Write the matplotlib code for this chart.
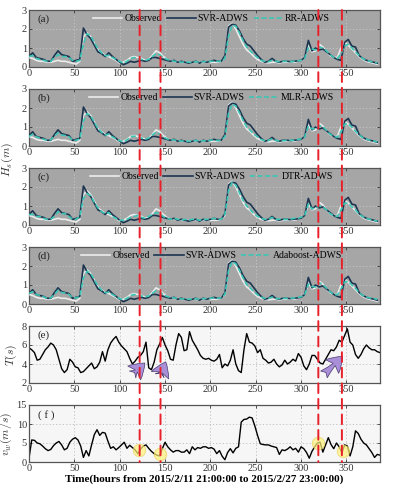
import numpy as np
import matplotlib
matplotlib.use("Agg")
import matplotlib.pyplot as plt
from matplotlib.patches import ConnectionPatch, FancyArrowPatch

plt.rcParams["font.family"] = ["Liberation Serif", "DejaVu Serif"]
plt.rcParams["mathtext.fontset"] = "cm"

# ---- data ----
hs_hours = np.arange(0, 385, 4)
met_hours = np.arange(0, 388, 3)

hs_observed = [
    0.50, 0.45, 0.35, 0.30, 0.30, 0.25, 0.25, 0.30, 0.35, 0.30,
    0.30, 0.25, 0.20, 0.15, 0.30, 1.60, 1.80, 1.60, 1.25, 0.90,
    0.75, 0.60, 0.55, 0.45, 0.35, 0.20, 0.25, 0.35, 0.50, 0.55,
    0.50, 0.45, 0.35, 0.40, 0.60, 0.85, 0.75, 0.55, 0.40, 0.30,
    0.30, 0.28, 0.25, 0.25, 0.22, 0.25, 0.25, 0.22, 0.25, 0.25,
    0.25, 0.25, 0.25, 0.30, 0.50, 2.15, 2.30, 2.00, 1.60, 1.20,
    0.90, 0.75, 0.55, 0.40, 0.30, 0.25, 0.22, 0.25, 0.25, 0.22,
    0.25, 0.25, 0.25, 0.25, 0.30, 0.35, 0.50, 1.10, 0.80, 0.85,
    1.20, 1.05, 0.80, 0.60, 0.50, 0.50, 1.00, 1.30, 1.15, 0.95,
    0.75, 0.55, 0.40, 0.30, 0.25, 0.20, 0.15]

hs_svr = [
    0.55, 0.75, 0.50, 0.45, 0.40, 0.30, 0.30, 0.60, 0.85, 0.65,
    0.60, 0.55, 0.30, 0.35, 0.40, 2.05, 1.70, 1.50, 1.15, 0.80,
    0.70, 0.55, 0.75, 0.55, 0.40, 0.25, 0.12, 0.20, 0.30, 0.25,
    0.30, 0.35, 0.30, 0.35, 0.50, 0.50, 0.45, 0.40, 0.35, 0.30,
    0.35, 0.25, 0.30, 0.25, 0.20, 0.25, 0.30, 0.20, 0.30, 0.25,
    0.30, 0.35, 0.30, 0.30, 0.60, 2.10, 2.25, 2.20, 1.90, 1.50,
    1.20, 1.10, 0.85, 0.60, 0.40, 0.25, 0.30, 0.45, 0.30, 0.25,
    0.30, 0.30, 0.28, 0.30, 0.32, 0.35, 0.50, 1.40, 0.85, 1.00,
    0.90, 0.95, 0.80, 0.65, 0.50, 0.40, 0.35, 1.30, 1.45, 1.10,
    1.05, 0.60, 0.45, 0.35, 0.30, 0.25, 0.20]

hs_rr = [
    0.55, 0.60, 0.45, 0.40, 0.35, 0.30, 0.30, 0.50, 0.65, 0.55,
    0.55, 0.50, 0.35, 0.30, 0.35, 1.20, 1.75, 1.65, 1.30, 0.95,
    0.75, 0.60, 0.60, 0.50, 0.40, 0.30, 0.20, 0.30, 0.45, 0.50,
    0.45, 0.40, 0.35, 0.40, 0.55, 0.70, 0.65, 0.50, 0.40, 0.35,
    0.30, 0.30, 0.25, 0.28, 0.25, 0.25, 0.28, 0.25, 0.28, 0.30,
    0.30, 0.30, 0.30, 0.30, 0.45, 1.60, 2.20, 2.15, 1.80, 1.40,
    1.05, 0.85, 0.65, 0.50, 0.35, 0.30, 0.28, 0.35, 0.30, 0.28,
    0.30, 0.30, 0.28, 0.30, 0.32, 0.35, 0.45, 1.00, 0.95, 0.90,
    1.05, 1.00, 0.85, 0.65, 0.50, 0.45, 0.70, 1.10, 1.20, 1.00,
    0.80, 0.60, 0.45, 0.35, 0.30, 0.25, 0.22]

hs_mlr = [
    0.50, 0.62, 0.48, 0.42, 0.36, 0.30, 0.32, 0.52, 0.70, 0.58,
    0.55, 0.48, 0.32, 0.30, 0.38, 1.30, 1.70, 1.60, 1.25, 0.92,
    0.72, 0.58, 0.62, 0.48, 0.38, 0.28, 0.22, 0.32, 0.48, 0.52,
    0.48, 0.42, 0.36, 0.42, 0.58, 0.72, 0.62, 0.48, 0.38, 0.32,
    0.32, 0.28, 0.26, 0.28, 0.24, 0.26, 0.30, 0.24, 0.28, 0.28,
    0.30, 0.32, 0.28, 0.32, 0.48, 1.70, 2.20, 2.10, 1.75, 1.35,
    1.00, 0.82, 0.62, 0.48, 0.34, 0.28, 0.30, 0.38, 0.30, 0.26,
    0.28, 0.30, 0.30, 0.30, 0.34, 0.38, 0.48, 1.05, 0.90, 0.92,
    1.08, 1.02, 0.82, 0.62, 0.52, 0.46, 0.75, 1.15, 1.18, 0.98,
    0.78, 0.58, 0.44, 0.36, 0.30, 0.26, 0.22]

hs_dtr = [
    0.55, 0.55, 0.45, 0.45, 0.35, 0.30, 0.30, 0.45, 0.70, 0.60,
    0.60, 0.45, 0.30, 0.30, 0.45, 1.40, 1.65, 1.55, 1.20, 0.90,
    0.70, 0.60, 0.65, 0.45, 0.35, 0.25, 0.25, 0.30, 0.40, 0.45,
    0.50, 0.40, 0.35, 0.45, 0.55, 0.65, 0.60, 0.45, 0.35, 0.30,
    0.35, 0.30, 0.25, 0.30, 0.25, 0.30, 0.30, 0.25, 0.30, 0.30,
    0.30, 0.35, 0.30, 0.30, 0.55, 1.80, 2.25, 2.10, 1.70, 1.30,
    1.00, 0.80, 0.60, 0.45, 0.35, 0.30, 0.30, 0.40, 0.30, 0.30,
    0.30, 0.30, 0.30, 0.35, 0.35, 0.40, 0.50, 1.10, 0.85, 0.90,
    1.00, 0.95, 0.80, 0.60, 0.50, 0.45, 0.80, 1.15, 1.15, 0.95,
    0.80, 0.55, 0.45, 0.35, 0.30, 0.25, 0.20]

hs_ada = [
    0.55, 0.65, 0.50, 0.45, 0.38, 0.30, 0.32, 0.50, 0.72, 0.60,
    0.58, 0.50, 0.34, 0.32, 0.40, 1.35, 1.72, 1.62, 1.28, 0.95,
    0.74, 0.60, 0.62, 0.50, 0.40, 0.28, 0.22, 0.30, 0.45, 0.50,
    0.46, 0.42, 0.38, 0.42, 0.56, 0.70, 0.64, 0.50, 0.40, 0.34,
    0.32, 0.30, 0.26, 0.28, 0.25, 0.27, 0.28, 0.25, 0.28, 0.30,
    0.30, 0.32, 0.30, 0.32, 0.50, 1.75, 2.22, 2.12, 1.78, 1.38,
    1.02, 0.84, 0.64, 0.48, 0.36, 0.30, 0.30, 0.36, 0.30, 0.28,
    0.30, 0.30, 0.30, 0.32, 0.34, 0.38, 0.48, 1.05, 0.92, 0.90,
    1.12, 1.02, 0.84, 0.64, 0.52, 0.48, 0.78, 1.15, 1.20, 1.00,
    0.82, 0.60, 0.46, 0.36, 0.32, 0.28, 0.25]

wave_period = [
    5.7, 5.5, 5.2, 4.4, 4.5, 5.0, 5.5, 5.8, 6.2, 6.0,
    5.5, 4.5, 3.5, 3.1, 3.4, 4.5, 4.2, 3.7, 3.6, 3.1,
    3.2, 3.5, 3.8, 4.1, 3.5, 3.7, 4.2, 5.3, 4.3, 5.5,
    6.2, 6.6, 6.9, 6.3, 5.9, 5.6, 5.3, 4.6, 4.0, 4.3,
    4.7, 4.9, 5.3, 6.3, 3.6, 3.4, 4.2, 5.5, 6.1, 6.8,
    6.0, 5.4, 4.5, 4.4, 6.0, 7.2, 6.8, 5.4, 5.5, 7.4,
    6.5, 6.0, 5.5, 4.9, 4.6, 4.5, 4.6, 4.4, 4.3, 4.5,
    5.0, 3.6, 4.0, 3.8, 4.4, 5.5, 4.0, 3.3, 3.1, 5.5,
    7.2, 6.3, 6.2, 5.9, 5.2, 5.5, 4.6, 4.4, 4.1, 4.2,
    4.5, 4.0, 3.7, 3.9, 4.4, 4.0, 4.2, 4.5, 4.3, 5.1,
    4.7, 3.8, 3.4, 4.0, 4.9, 4.9, 4.5, 4.1, 4.0, 4.5,
    5.0, 5.5, 5.4, 5.8, 6.5, 6.3, 7.0, 7.7, 6.3, 6.0,
    5.0, 4.6, 5.0, 5.6, 6.0, 5.7, 5.5, 5.5, 5.3, 5.2]

wind_speed = [
    1.0, 5.8, 5.7, 5.0, 4.8, 4.2, 3.5, 3.0, 3.3, 4.3,
    5.0, 5.4, 4.5, 3.2, 3.6, 5.2, 6.0, 6.4, 5.8, 4.2,
    1.2, 3.0, 1.6, 4.5, 7.2, 8.5, 7.0, 7.8, 7.6, 5.5,
    3.6, 4.0, 3.2, 3.8, 4.5, 5.2, 3.6, 4.4, 3.8, 3.2,
    2.2, 3.4, 4.2, 4.5, 3.6, 2.8, 2.2, 1.8, 1.6, 3.5,
    5.2, 4.0, 3.2, 2.6, 3.0, 3.0, 2.6, 2.6, 3.2, 2.2,
    4.0, 3.2, 3.8, 3.6, 4.0, 4.0, 3.6, 3.8, 3.4, 2.2,
    3.0, 1.5, 0.6, 2.5, 3.5, 2.4, 3.6, 4.0, 10.5, 11.2,
    11.3, 11.8, 11.6, 9.5, 7.0, 4.8, 4.6, 4.5, 4.5, 4.2,
    4.0, 3.8, 2.0, 3.2, 3.0, 3.4, 4.0, 3.2, 3.6, 2.6,
    4.0, 3.5, 2.5, 1.0, 2.8, 4.0, 5.0, 5.2, 2.6, 4.5,
    6.4, 4.6, 3.5, 5.0, 4.0, 2.4, 4.5, 4.2, 1.6, 4.0,
    8.2, 7.5, 6.0, 5.0, 4.5, 3.5, 2.5, 1.2, 2.0, 1.8]

model_labels = ["RR-ADWS", "MLR-ADWS", "DTR-ADWS", "Adaboost-ADWS"]
model_series = [hs_rr, hs_mlr, hs_dtr, hs_ada]
panel_tags = ["(a)", "(b)", "(c)", "(d)"]

event_hours = [122, 145, 319, 345]
# circled wind points in (f)
wind_marks_x = [121, 144, 319, 346]
wind_marks_y = [3.2, 2.0, 5.0, 2.8]
# purple arrows in (e): (tail, head)
period_arrows = [((112, 2.7), (130, 4.3)),
                 ((143, 2.5), (152, 4.5)),
                 ((323, 2.7), (348, 5.0))]

GRAY_BG = "#a6a6a6"
LIGHT_BG = "#f6f6f6"
OBS = "#ececec"
SVR = "#1d3550"
MODEL = "#3cc6b4"
RED = "#e8202a"

XMAX = 387

fig = plt.figure(figsize=(3.95, 4.92), dpi=100)
left, width, h = 29 / 395, 351 / 395, 57 / 492
tops = [10, 89, 168, 247, 326, 405]
axes = [fig.add_axes([left, 1 - (t + 57) / 492, width, h]) for t in tops]


def style(ax, bg, ylim, yticks, gridc):
    ax.set_facecolor(bg)
    ax.set_xlim(0, XMAX)
    ax.set_ylim(*ylim)
    ax.set_yticks(yticks)
    ax.set_xticks(np.arange(0, 351, 50))
    ax.tick_params(direction="in", length=2.5, width=0.6, labelsize=7.5,
                   top=True, right=True, pad=1.5, colors="#333333")
    ax.grid(True, linestyle=(0, (1.5, 2.5)), color=gridc, linewidth=0.6)
    for s in ax.spines.values():
        s.set_color("#555555")
        s.set_linewidth(0.9)


for i in range(4):
    ax = axes[i]
    style(ax, GRAY_BG, (0, 3), [0, 1, 2, 3], "#c8c8c8")
    ax.plot(hs_hours, hs_observed, color=OBS, lw=1.2, label="Observed", zorder=3)
    ax.plot(hs_hours, hs_svr, color=SVR, lw=1.2, label="SVR-ADWS", zorder=4)
    ax.plot(hs_hours, model_series[i], color=MODEL, lw=1.2,
            ls=(0, (3, 1.5)), label=model_labels[i], zorder=5)
    ax.text(0.025, 0.83, panel_tags[i], transform=ax.transAxes, fontsize=8,
            ha="left", va="center", color="#222222")
    ax.legend(loc="upper center", bbox_to_anchor=(0.52, 1.03), ncol=3,
              frameon=False, fontsize=7, handlelength=3.0, columnspacing=0.5,
              handletextpad=0.2, borderaxespad=0.2)

ax_t = axes[4]
style(ax_t, LIGHT_BG, (2, 8), [2, 4, 6, 8], "#bbbbbb")
ax_t.plot(met_hours, wave_period, color="black", lw=1.0)
ax_t.text(0.025, 0.83, "(e)", transform=ax_t.transAxes, fontsize=8,
          ha="left", va="center", color="#222222")
for tail, head in period_arrows:
    ax_t.add_patch(FancyArrowPatch(
        tail, head, arrowstyle="fancy,head_width=0.9,head_length=0.7,tail_width=0.45",
        mutation_scale=15, fc="#a88fd8", ec="#4a3a70", lw=0.5, zorder=6))

ax_w = axes[5]
style(ax_w, LIGHT_BG, (0, 15), [0, 5, 10, 15], "#bbbbbb")
ax_w.plot(met_hours, wind_speed, color="black", lw=1.0)
ax_w.scatter(wind_marks_x, wind_marks_y, s=80, color="#fff27a", alpha=0.7,
             edgecolors="#e8d050", linewidths=0.6, zorder=5)
ax_w.text(0.025, 0.83, "( f )", transform=ax_w.transAxes, fontsize=8,
          ha="left", va="center", color="#222222")
ax_w.set_xlabel("Time(hours from 2015/2/11 21:00:00 to 2015/2/27 23:00:00)",
                fontsize=8, fontweight="bold", labelpad=1)

# y labels
fig.text(0.018, 1 - 160 / 492, r"$H_s(m)$", rotation=90, ha="center",
         va="center", fontsize=8.5, color="#333333")
ax_t.set_ylabel(r"$T(s)$", fontsize=8.5, labelpad=2, color="#333333")
ax_w.set_ylabel(r"$v_w(m/s)$", fontsize=8.5, labelpad=2, color="#333333")

# red dashed event lines through all panels
for xv in event_hours:
    con = ConnectionPatch(xyA=(xv, 3), coordsA=axes[0].transData,
                          xyB=(xv, 0), coordsB=axes[5].transData,
                          color=RED, lw=1.4, linestyle=(0, (5, 3)), zorder=10)
    fig.add_artist(con)

fig.savefig("out.png", dpi=100)
